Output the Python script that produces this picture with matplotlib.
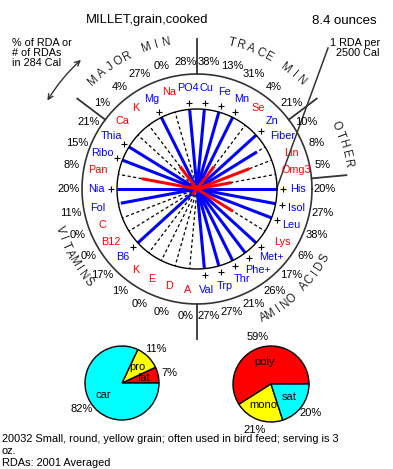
import numpy as np
import matplotlib
matplotlib.use('Agg')
import matplotlib.pyplot as plt

plt.rcParams['font.family'] = ['Liberation Sans', 'DejaVu Sans']

# nutrients, clockwise starting at 3 o'clock
nutrients = ['His', 'Isol', 'Leu', 'Lys', 'Met+', 'Phe+', 'Thr', 'Trp', 'Val',
             'A', 'D', 'E', 'K', 'B6', 'B12', 'C', 'Fol', 'Nia', 'Pan', 'Ribo', 'Thia',
             'Ca', 'K', 'Mg', 'Na', 'PO4',
             'Cu', 'Fe', 'Mn', 'Se', 'Zn',
             'Fiber', 'Lin', 'Omg3']
pct = [20, 27, 38, 6, 17, 26, 21, 27, 27,
       0, 0, 0, 1, 17, 0, 0, 11, 20, 8, 15, 21,
       1, 4, 27, 0, 28,
       38, 13, 31, 4, 21,
       10, 8, 5]
groups = ['AMINO ACIDS', 'VITAMINS', 'MAJOR MIN', 'TRACE MIN', 'OTHER']
group_sizes = [9, 12, 5, 5, 3]

calories = 284
ref_cal = 2500

macro_labels = ['fat', 'pro', 'car']
macro_pct = [7, 11, 82]
fat_labels = ['poly', 'mono', 'sat']
fat_pct = [59, 21, 20]

W, H = 393, 469
fig = plt.figure(figsize=(W / 100, H / 100), dpi=100)
ax = fig.add_axes([0, 0, 1, 1])

cx, cy = 197, 189
R_in, R_out = 80, 115
n = len(nutrients)
step = 360 / n


def pt(r, a):
    t = np.deg2rad(a)
    return cx + r * np.cos(t), cy - r * np.sin(t)


rda = np.array(pct) / 100 * ref_cal / calories
blue, red = '#0000ff', '#ff0000'

# spokes
for i in range(n):
    a = -i * step
    x1, y1 = pt(R_in, a)
    if rda[i] < 1:
        ax.plot([cx, x1], [cy, y1], color='k', lw=0.9, ls=(0, (2.5, 2)), zorder=2)
for i in range(n):
    a = -i * step
    if rda[i] >= 0.75:
        x1, y1 = pt(min(rda[i], 1) * R_in, a)
        ax.plot([cx, x1], [cy, y1], color=blue, lw=2.2, zorder=3, solid_capstyle='butt')
for i in range(n):
    a = -i * step
    if 0 < rda[i] < 0.75:
        x1, y1 = pt(rda[i] * R_in, a)
        ax.plot([cx, x1], [cy, y1], color=red, lw=2.2, zorder=4, solid_capstyle='butt')

for i in range(n):
    a = -i * step
    if rda[i] >= 1:
        px, py = pt(86, a)
        ax.plot(px, py, '+', color='k', ms=4, mew=0.8, zorder=5)
    lx, ly = pt(101, a)
    ax.text(lx, ly, nutrients[i], color=blue if rda[i] >= 0.75 else red,
            fontsize=7.8, ha='center', va='center')
    tx, ty = pt(128, a)
    ax.text(tx, ty, f'{pct[i]}%', fontsize=8, ha='center', va='center')

th = np.linspace(0, 2 * np.pi, 400)
ax.plot(cx + R_in * np.cos(th), cy + R_in * np.sin(th), color='k', lw=1.0, zorder=4)
ax.plot(cx + R_out * np.cos(th), cy + R_out * np.sin(th), color='#333333', lw=1.2)

# group dividers
edges = np.cumsum([0] + group_sizes[:-1]) - 0.5
for e in edges:
    a = -e * step
    x0, y0 = pt(R_out, a)
    x1, y1 = pt(150, a)
    ax.plot([x0, x1], [y0, y1], color='#333333', lw=1.3)

# curved group names
name_pos = {'AMINO ACIDS': (-45.6, 145, 3.42), 'VITAMINS': (208.75, 143, 3.44),
            'MAJOR MIN': (117.5, 150, 3.97), 'TRACE MIN': (61.35, 150, 3.84),
            'OTHER': (17.0, 153, 3.7)}
for g in groups:
    ac, r, st = name_pos[g]
    m = len(g)
    top = 0 < ac < 180
    for k, ch in enumerate(g):
        off = (k - (m - 1) / 2) * st
        a = ac - off if top else ac + off
        x, y = pt(r, a)
        rot = a - 90 if top else a + 90
        ax.text(x, y, ch, fontsize=8.3, ha='center', va='center', rotation=rot,
                color='#222222')

# header texts
ax.text(147, 20, 'MILLET,grain,cooked', fontsize=9.4, ha='center', va='center')
ax.text(312, 21, '8.4 ounces', fontsize=9.5, ha='left', va='center')
ax.text(12, 53, '% of RDA or\n# of RDAs\nin 284 Cal', fontsize=7.8, ha='left',
        va='center', linespacing=1.05)
ax.text(380, 48, '1 RDA per\n2500 Cal', fontsize=7.8, ha='right', va='center',
        linespacing=1.05)
ax.annotate('', xy=(46, 103), xytext=(83, 58),
            arrowprops=dict(arrowstyle='<->', color='#333333', lw=1,
                            connectionstyle='arc3,rad=0.08', mutation_scale=9))
ex, ey = pt(R_in, 1)
ax.plot([328, ex], [48, ey], color='#333333', lw=1.1)


# pies
def draw_pie(vals, labels, center, r):
    ax.pie(vals, colors=[red, 'yellow', 'cyan'], startangle=0, counterclock=False,
           center=center, radius=r, frame=True,
           wedgeprops=dict(edgecolor='k', linewidth=1))
    cum = np.cumsum(vals) - np.array(vals) / 2
    for v, lab, c in zip(vals, labels, cum):
        t = np.deg2rad(c * 3.6)
        ax.text(center[0] + 0.6 * r * np.cos(t), center[1] - 0.6 * r * np.sin(t),
                lab, fontsize=8, ha='center', va='center')
        ax.text(center[0] + 1.3 * r * np.cos(t), center[1] - 1.3 * r * np.sin(t),
                f'{v}%', fontsize=8, ha='center', va='center')


draw_pie(macro_pct, macro_labels, (122, 383), 37)
draw_pie(fat_pct, fat_labels, (271, 384), 38)

ax.text(2, 439, '20032 Small, round, yellow grain; often used in bird feed; serving is 3',
        fontsize=7.9, ha='left', va='center')
ax.text(2, 451, 'oz.', fontsize=7.9, ha='left', va='center')
ax.text(2, 463, 'RDAs: 2001 Averaged', fontsize=7.9, ha='left', va='center')

ax.set_xlim(0, W)
ax.set_ylim(H, 0)
ax.set_aspect('auto')
ax.axis('off')
fig.savefig('out.png', dpi=100, facecolor='white')
